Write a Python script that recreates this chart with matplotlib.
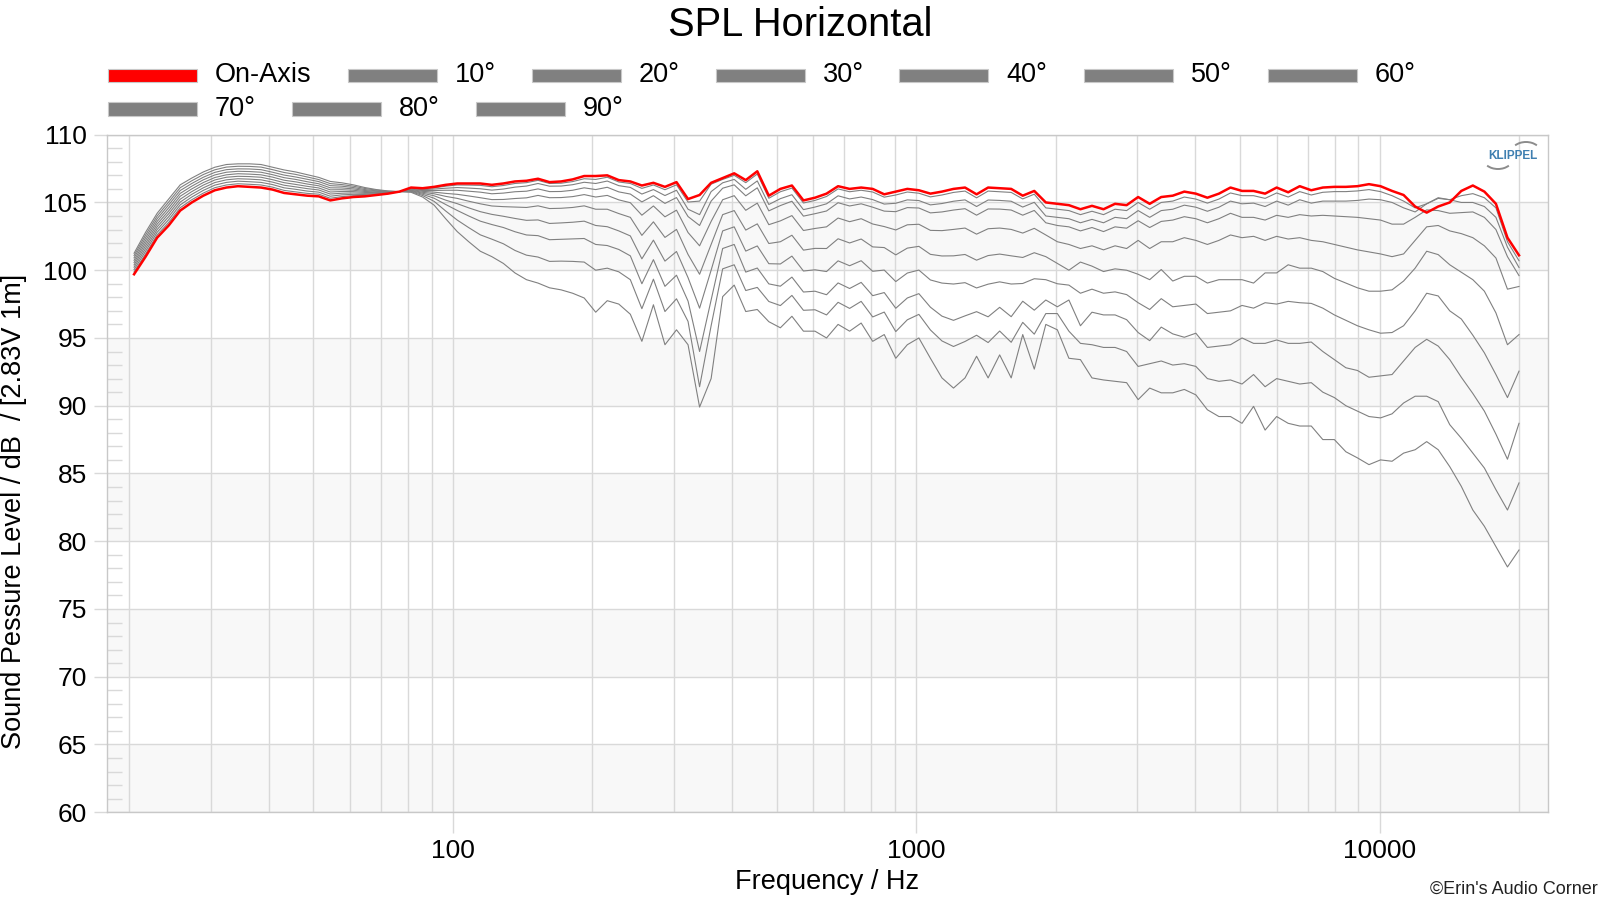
import numpy as np
import matplotlib
matplotlib.use("Agg")
import matplotlib.pyplot as plt
from matplotlib.patches import Rectangle, Arc
from matplotlib.transforms import IdentityTransform
from matplotlib.ticker import FixedLocator, NullFormatter

plt.rcParams['font.family'] = ['Liberation Sans', 'DejaVu Sans']

# 1/12-octave measurement grid, ~20 Hz .. 20 kHz
freq = np.geomspace(20.5, 20000, 121)

on_axis = [
    99.7, 101.0, 102.4, 103.3, 104.4, 105.0, 105.5, 105.9, 106.1, 106.2, 106.15, 106.1,
    105.95, 105.7, 105.6, 105.5, 105.45, 105.15, 105.3, 105.4, 105.45, 105.55, 105.65, 105.8,
    106.1, 106.05, 106.15, 106.3, 106.4, 106.4, 106.4, 106.3, 106.4, 106.55, 106.6, 106.75,
    106.5, 106.55, 106.7, 106.95, 106.95,
    107.0, 106.65, 106.55, 106.25, 106.45, 106.15, 106.5, 105.25, 105.55, 106.45, 106.8,
    107.15, 106.65, 107.3, 105.5, 106.0, 106.25, 105.15, 105.35, 105.65, 106.2, 106.0,
    106.1, 106.0, 105.6, 105.8, 106.0, 105.9, 105.65, 105.8, 106.0, 106.1, 105.6, 106.1,
    106.05, 106.0, 105.5, 105.85, 105.0,
    104.9, 104.8, 104.5, 104.75, 104.5, 104.9, 104.8, 105.4, 104.9, 105.4, 105.5, 105.8,
    105.65, 105.35, 105.65, 106.1, 105.85, 105.85, 105.65, 106.1, 105.75, 106.2, 105.9,
    106.1, 106.15, 106.15, 106.2, 106.35, 106.2, 105.85, 105.55, 104.7, 104.25, 104.7,
    105.0, 105.85, 106.25, 105.8, 104.9, 102.4, 101.1,
]

deg10 = [
    99.87, 101.2, 102.6, 103.52, 104.61, 105.2, 105.69, 106.09, 106.29, 106.38, 106.34, 106.29,
    106.13, 105.89, 105.78, 105.67, 105.61, 105.31, 105.43, 105.5, 105.52, 105.59, 105.67, 105.8,
    106.06, 106.0, 106.08, 106.2, 106.29, 106.28, 106.26, 106.16, 106.25, 106.4, 106.46, 106.63,
    106.4, 106.42, 106.54, 106.75, 106.7,
    106.86, 106.51, 106.4, 106.04, 106.29, 105.94, 106.3, 105.03, 105.1, 106.35, 106.7, 107.0,
    106.46, 107.1, 105.31, 105.79, 106.06, 104.96, 105.15, 105.44, 106.0, 105.79, 105.9, 105.77,
    105.39, 105.55, 105.77, 105.68, 105.41, 105.55, 105.74, 105.84, 105.34, 105.84, 105.79,
    105.74, 105.26, 105.61, 104.6,
    104.5, 104.4, 104.1, 104.35, 104.1, 104.5, 104.4, 105.0, 104.5, 105.0, 105.1, 105.4,
    105.25, 104.95, 105.25, 105.7,
    105.5, 105.5, 105.3, 105.7, 105.4, 105.8, 105.55, 105.75, 105.8, 105.8, 105.85, 105.95,
    105.8, 105.5, 105.1, 104.6, 104.9, 105.35, 105.2, 105.5, 105.65, 105.35, 104.6, 102.1, 100.7,
]

deg20 = [
    100.04, 101.4, 102.8, 103.73, 104.82, 105.4, 105.89, 106.28, 106.48, 106.57, 106.53, 106.48,
    106.32, 106.08, 105.97, 105.84, 105.76, 105.46, 105.56, 105.6, 105.59, 105.64, 105.69, 105.8,
    106.02, 105.94, 105.99, 106.05, 106.1, 106.06, 106.01, 105.91, 105.99, 106.13, 106.21, 106.4,
    106.2, 106.21, 106.31, 106.49, 106.4,
    106.58, 106.24, 106.11, 105.62, 105.95, 105.51, 105.9, 104.5, 104.1, 105.8, 106.45, 106.7,
    105.97, 106.59, 104.85, 105.28, 105.57, 104.47, 104.66, 104.9, 105.49, 105.26, 105.4, 105.21,
    104.88, 104.94, 105.19, 105.14, 104.82, 104.92, 105.09, 105.19, 104.7, 105.18, 105.15,
    105.09, 104.66, 105.01, 104.0,
    103.9, 103.8, 103.5, 103.75, 103.5, 103.9, 103.8, 104.4, 103.9, 104.4, 104.5, 104.8,
    104.65, 104.35, 104.65, 105.1,
    104.9, 104.95, 104.7, 105.1, 104.8, 105.2, 104.95, 105.1, 105.1, 105.1, 105.15, 105.25,
    105.2, 105.0, 104.6, 104.3, 104.9, 105.3, 105.2, 105.0, 105.0, 104.7, 103.9, 101.7, 100.2,
]

deg30 = [
    100.22, 101.6, 103.0, 103.95, 105.03, 105.6, 106.08, 106.47, 106.67, 106.75, 106.72, 106.67,
    106.5, 106.27, 106.15, 106.02, 105.92, 105.62, 105.68, 105.7, 105.67, 105.68, 105.72, 105.8,
    105.98, 105.88, 105.88, 105.9, 105.9, 105.83, 105.76, 105.64, 105.69, 105.79, 105.83, 106.0,
    105.8, 105.81, 105.9, 106.08, 105.95,
    106.12, 105.78, 105.62, 105.04, 105.5, 104.93, 105.36, 103.96, 103.3, 105.1, 106.05, 106.3,
    105.49, 106.08, 104.38, 104.77, 105.09, 103.99, 104.17, 104.37, 104.98, 104.74, 104.9, 104.65,
    104.36, 104.32, 104.62, 104.59, 104.23, 104.3, 104.44, 104.54, 104.06, 104.52, 104.51,
    104.44, 104.06, 104.41, 103.5,
    103.3, 103.2, 102.9, 103.15, 102.85, 103.2, 103.1, 103.65, 103.15, 103.6, 103.7, 103.95,
    103.8, 103.5, 103.8, 104.2,
    103.9, 103.9, 103.7, 104.05, 103.9, 104.1, 104.0, 104.05, 104.0, 103.95, 103.9, 103.8,
    103.7, 103.4, 103.4, 103.9, 104.45, 104.4, 104.2, 104.25, 104.3, 103.9, 103.0, 101.0, 99.6,
]

deg40 = [
    100.39, 101.8, 103.2, 104.17, 105.24, 105.8, 106.28, 106.66, 106.86, 106.93, 106.91, 106.86,
    106.68, 106.46, 106.33, 106.19, 106.07, 105.77, 105.81, 105.8, 105.74, 105.73, 105.74, 105.8,
    105.95, 105.82, 105.76, 105.67, 105.6, 105.48, 105.35, 105.21, 105.22, 105.29, 105.34, 105.52,
    105.35, 105.36, 105.43, 105.58, 105.4,
    105.52, 105.19, 104.98, 104.06, 104.74, 103.94, 104.43, 102.78, 101.8, 103.6, 105.2, 105.5,
    104.42, 104.95, 103.36, 103.64, 104.03, 102.93, 103.08, 103.2, 103.85, 103.58, 103.8, 103.41,
    103.22, 102.97, 103.35, 103.39, 102.94, 102.92, 103.01, 103.11, 102.66, 103.06, 103.11,
    103.01, 102.74, 103.09, 102.6,
    102.1, 101.9, 101.6, 101.8, 101.5, 101.8, 101.6, 102.2, 101.6, 102.1, 102.1, 102.4,
    102.2, 101.9, 102.2, 102.6,
    102.4, 102.5, 102.2, 102.5, 102.3, 102.4, 102.2, 102.1, 101.9, 101.7, 101.5, 101.35,
    101.2, 101.0, 101.2, 102.2, 103.2, 103.3, 102.9, 102.7, 102.4, 101.8, 100.9, 98.6, 98.8,
]

deg50 = [
    100.56, 102.0, 103.4, 104.38, 105.46, 106.0, 106.47, 106.84, 107.04, 107.12, 107.09, 107.04,
    106.87, 106.64, 106.52, 106.36, 106.23, 105.93, 105.94, 105.9, 105.81, 105.77, 105.76, 105.8,
    105.9, 105.75, 105.64, 105.45, 105.3, 105.09, 104.9, 104.74, 104.69, 104.66, 104.63, 104.75,
    104.55, 104.57, 104.63, 104.75, 104.5,
    104.5, 104.18, 103.9, 102.57, 103.57, 102.42, 103.01, 101.16, 99.7, 101.9, 104.1, 104.4,
    102.96, 103.42, 101.97, 102.1, 102.58, 101.48, 101.61, 101.6, 102.32, 102.01, 102.3, 101.72,
    101.67, 101.13, 101.63, 101.76, 101.17, 101.05, 101.06, 101.16, 100.74, 101.08, 101.19,
    101.06, 100.94, 101.29, 101.0,
    100.5, 100.0, 100.6, 100.3, 99.9, 100.1, 100.0, 99.7, 99.3, 100.05, 99.2, 99.55,
    99.55, 99.05, 99.3, 99.3,
    99.3, 99.05, 99.8, 99.8, 100.4, 100.15, 100.15, 99.9, 99.4, 99.05, 98.7, 98.45,
    98.45, 98.55, 99.2, 100.15, 101.4, 101.15, 100.4, 99.85, 99.3, 98.45, 96.85, 94.5, 95.25,
]

deg60 = [
    100.73, 102.2, 103.6, 104.6, 105.67, 106.2, 106.67, 107.03, 107.23, 107.3, 107.28, 107.23,
    107.05, 106.83, 106.7, 106.53, 106.38, 106.08, 106.07, 106.0, 105.88, 105.82, 105.78, 105.8,
    105.87, 105.68, 105.49, 105.17, 104.91, 104.6, 104.32, 104.12, 103.98, 103.82, 103.68, 103.71,
    103.45, 103.49, 103.54, 103.62, 103.3,
    103.21, 102.9, 102.53, 100.84, 102.22, 100.67, 101.38, 99.45, 97.2, 100.0, 102.9, 103.2,
    101.41, 101.79, 100.48, 100.46, 101.04, 99.94, 100.03, 99.9, 100.69, 100.33, 100.7, 99.92,
    100.01, 99.16, 99.79, 100.01, 99.28, 99.05, 98.98, 99.08, 98.69, 98.97, 99.14,
    98.98, 99.02, 99.37, 99.3,
    99.0, 98.9, 98.3, 98.6, 98.3, 98.4, 98.2, 97.6, 97.1, 97.9, 97.3, 97.4,
    97.5, 96.8, 96.9, 97.0,
    97.4, 97.2, 97.6, 97.5, 97.7, 97.6, 97.55, 97.2, 96.7, 96.3, 95.9, 95.6,
    95.35, 95.4, 95.9, 97.0, 98.3, 98.1, 97.0, 96.4, 95.2, 93.9, 92.3, 90.6, 92.55,
]

deg70 = [
    100.91, 102.4, 103.8, 104.82, 105.88, 106.4, 106.86, 107.22, 107.42, 107.48, 107.47, 107.42,
    107.23, 107.02, 106.88, 106.71, 106.54, 106.24, 106.2, 106.1, 105.95, 105.86, 105.8, 105.8,
    105.83, 105.6, 105.31, 104.85, 104.41, 104.0, 103.62, 103.37, 103.15, 102.84, 102.6, 102.55,
    102.25, 102.28, 102.31, 102.34, 101.9,
    101.82, 101.53, 101.06, 99.0, 100.78, 98.81, 99.63, 97.72, 94.0, 97.8, 101.6, 101.9,
    99.86, 100.16, 98.99, 98.82, 99.49, 98.39, 98.45, 98.19, 99.06, 98.65, 99.1, 98.12,
    98.35, 97.19, 97.95, 98.27, 97.27, 96.61, 96.3, 96.63, 96.94, 96.56, 97.26,
    96.57, 97.71, 97.05, 97.8,
    97.3, 97.8, 95.9, 96.9, 96.7, 96.7, 96.35, 95.4, 94.8, 95.8, 95.3, 95.05,
    95.35, 94.3, 94.4, 94.5,
    95.0, 94.6, 94.6, 94.85, 94.6, 94.6, 94.7, 94.0, 93.4, 92.8, 92.6, 92.1,
    92.2, 92.3, 93.3, 94.3, 94.9, 94.4, 93.4, 92.1, 90.9, 89.6, 87.9, 86.05, 88.7,
]

deg80 = [
    101.08, 102.6, 104.0, 105.03, 106.09, 106.6, 107.06, 107.41, 107.61, 107.67, 107.66, 107.61,
    107.42, 107.21, 107.07, 106.88, 106.69, 106.39, 106.32, 106.2, 106.03, 105.91, 105.83, 105.8,
    105.79, 105.51, 105.08, 104.37, 103.7, 103.14, 102.61, 102.29, 101.95, 101.46, 101.11, 100.97,
    100.65, 100.67, 100.65, 100.6, 100.0,
    100.15, 99.88, 99.3, 97.16, 99.34, 96.95, 97.89, 96.22, 91.4, 95.9, 100.1, 100.4,
    98.5, 98.73, 97.69, 97.39, 98.14, 97.04, 97.08, 96.7, 97.63, 97.18, 97.7, 96.55,
    96.91, 95.47, 96.34, 96.74, 95.59, 94.78, 94.37, 94.74, 95.2, 94.66, 95.51,
    94.68, 96.15, 95.28, 96.8,
    96.8, 95.5, 94.6, 94.5, 94.3, 94.3, 94.0, 92.9, 93.1, 93.3, 93.0, 93.1,
    92.9, 92.0, 91.8, 91.9,
    91.6, 92.3, 91.4, 92.0, 91.8, 91.6, 91.7, 91.0, 90.6, 90.0, 89.6, 89.2,
    89.1, 89.4, 90.2, 90.7, 90.7, 90.3, 88.6, 87.6, 86.5, 85.4, 83.8, 82.3, 84.3,
]

deg90 = [
    101.25, 102.8, 104.2, 105.25, 106.3, 106.8, 107.25, 107.6, 107.8, 107.85, 107.85, 107.8,
    107.6, 107.4, 107.25, 107.05, 106.85, 106.55, 106.45, 106.3, 106.1, 105.95, 105.85, 105.8,
    105.75, 105.4, 104.8, 103.8, 102.85, 102.1, 101.4, 101.0, 100.5, 99.8, 99.3, 99.05,
    98.7, 98.55, 98.3, 97.95, 96.9,
    97.75, 97.5, 96.75, 94.75, 97.45, 94.5, 95.6, 94.5, 89.9, 92.0, 98.05,
    98.9, 96.95, 97.1, 96.2, 95.75, 96.6, 95.5, 95.5, 95.0, 96.0, 95.5,
    96.1, 94.75, 95.25, 93.5, 94.5, 95.0, 93.5, 92.05, 91.3, 92.05, 93.65, 92.05,
    93.75, 92.05, 95.25, 92.7, 96.0,
    95.6, 93.5, 93.4, 92.05, 91.9, 91.8, 91.7, 90.45, 91.3, 90.95, 90.95, 91.2,
    90.8, 89.7, 89.2, 89.2, 88.7, 89.95, 88.2, 89.2, 88.7, 88.5, 88.5,
    87.5, 87.5, 86.6, 86.15, 85.65, 86.0, 85.9, 86.5, 86.75, 87.35, 86.75,
    85.5, 84.05, 82.3, 81.1, 79.6, 78.1, 79.35,
]

angles = ["10°", "20°", "30°", "40°", "50°", "60°", "70°", "80°", "90°"]
off_axis = [deg10, deg20, deg30, deg40, deg50, deg60, deg70, deg80, deg90]

W, H = 1600, 900
fig = plt.figure(figsize=(16, 9), dpi=100)
L, R, T, B = 107, 1548, 134.7, 812.2
ax = fig.add_axes([L / W, 1 - B / H, (R - L) / W, (B - T) / H])
ax.set_xscale('log')
ax.set_xlim(17.92, 23100)
ax.set_ylim(60, 110)

for lo in [60, 70, 80, 90, 100]:
    ax.axhspan(lo, lo + 5, color='#f8f8f8', zorder=0, lw=0)

gc = '#d9d9d9'
ax.xaxis.set_major_locator(FixedLocator([100, 1000, 10000]))
ax.set_xticklabels(['100', '1000', '10000'])
minors = [m * d for d in (10, 100, 1000) for m in range(2, 10)] + [20000]
ax.xaxis.set_minor_locator(FixedLocator(minors))
ax.xaxis.set_minor_formatter(NullFormatter())
ax.yaxis.set_major_locator(FixedLocator(list(range(60, 111, 5))))
ax.yaxis.set_minor_locator(FixedLocator([v for v in range(60, 111) if v % 5]))
ax.grid(True, which='major', color=gc, lw=1.0, zorder=1)
ax.grid(True, which='minor', axis='x', color=gc, lw=1.0, zorder=1)
ax.tick_params(axis='x', which='major', length=15, width=1, color=gc, pad=4,
               labelsize=19)
ax.tick_params(axis='x', which='minor', length=0)
ax.tick_params(axis='y', which='major', length=9.5, width=1, color=gc, pad=5,
               labelsize=19)
ax.tick_params(axis='y', which='minor', direction='in', length=10.5, width=1, color=gc)
for s in ax.spines.values():
    s.set_color('#c8c8c8')
    s.set_linewidth(1.0)

for c in off_axis:
    ax.plot(freq, c, color='#808080', lw=0.8, zorder=3)
ax.plot(freq, on_axis, color='#ff0000', lw=1.8, zorder=4)

fig.text(800 / W, 1 - 25 / H, 'SPL Horizontal', ha='center', va='center', fontsize=28.7)

# legend (flow layout)
labels = ['On-Axis'] + angles
colors = ['#ff0000'] + ['#808080'] * 9
pos = [(108, 75.5), (348, 75.5), (531.5, 75.5), (715.5, 75.5), (899, 75.5),
       (1083.5, 75.5), (1267.5, 75.5), (108, 109), (292, 109), (475.5, 109)]
for (x, y), lab, col in zip(pos, labels, colors):
    fig.add_artist(Rectangle((x / W, 1 - (y + 6.5) / H), 89 / W, 13 / H,
                             transform=fig.transFigure, facecolor=col,
                             edgecolor='#c8c8c8', lw=0.8))
    fig.text((x + 107) / W, 1 - y / H, lab, ha='left', va='center', fontsize=19.5)

fig.text(827.5 / W, 1 - 882 / H, 'Frequency / Hz', ha='center', va='center', fontsize=19.5)
fig.text(14 / W, 1 - 511 / H, 'Sound Pessure Level / dB  / [2.83V 1m]', rotation=90,
         ha='center', va='center', fontsize=19.5)
fig.text(1598 / W, 1 - 889 / H, '©Erin\'s Audio Corner', ha='right', va='center',
         fontsize=13, color='#222222')

# KLIPPEL logo
fig.text(1513 / W, 1 - 156 / H, 'KLIPPEL', ha='center', va='center', fontsize=8.5,
         fontweight='bold', color='#3f7fb0')
fig.add_artist(Arc((1526, H - 153), 30, 22, theta1=35, theta2=145, color='#8c8c8c',
                   lw=1.4, transform=IdentityTransform()))
fig.add_artist(Arc((1498, H - 158), 30, 22, theta1=215, theta2=325, color='#8c8c8c',
                   lw=1.4, transform=IdentityTransform()))

fig.savefig('out.png', dpi=100)
